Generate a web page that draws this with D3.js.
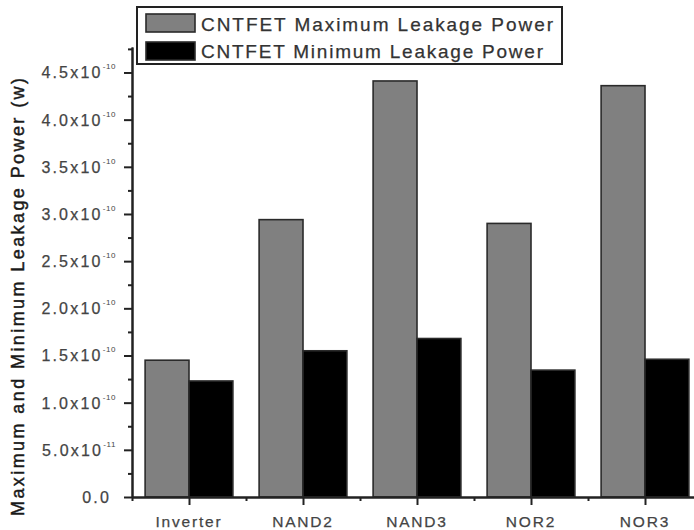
<!DOCTYPE html>
<html>
<head>
<meta charset="utf-8">
<script src="https://cdn.jsdelivr.net/npm/d3@7"></script>
<style>
  body { margin: 0; background: #fff; }
  svg { display: block; font-family: "Liberation Sans", Arial, sans-serif; }
</style>
</head>
<body>
<div id="plot"></div>
<script>
// data (values in W)
const categories = ['Inverter', 'NAND2', 'NAND3', 'NOR2', 'NOR3'];
const maxLeakage = [1.45e-10, 2.94e-10, 4.41e-10, 2.90e-10, 4.36e-10];
const minLeakage = [1.23e-10, 1.55e-10, 1.68e-10, 1.345e-10, 1.46e-10];
const yTicks = [0, 0.5e-10, 1.0e-10, 1.5e-10, 2.0e-10, 2.5e-10, 3.0e-10, 3.5e-10, 4.0e-10, 4.5e-10];
const yTickLabels = ['0.0', '5.0x10', '1.0x10', '1.5x10', '2.0x10', '2.5x10', '3.0x10', '3.5x10', '4.0x10', '4.5x10'];
const yTickExps = ['', '-11', '-10', '-10', '-10', '-10', '-10', '-10', '-10', '-10'];
const seriesNames = ['CNTFET Maximum Leakage Power', 'CNTFET Minimum Leakage Power'];

const width = 694;
const height = 530;
const axisColor = '#222';

const svg = d3.select('#plot')
  .append('svg')
  .attr('width', width)
  .attr('height', height);

svg.append('rect').attr('width', width).attr('height', height).attr('fill', '#fff');

// x runs from 0.5 to 5.5 categories, plot is cut at the right edge like the original
const x = d3.scaleLinear().domain([0.5, 5.5]).range([132, 702]);
const y = d3.scaleLinear().domain([0, 4.77e-10]).range([497, 47]);

const barW = (x(1) - x(0)) * 0.385;

// bars
const bars = svg.append('g');
bars.selectAll('rect.max')
  .data(maxLeakage)
  .enter()
  .append('rect')
  .attr('class', 'max')
  .attr('x', (d, i) => x(i + 1) - barW)
  .attr('y', (d) => y(d))
  .attr('width', barW)
  .attr('height', (d) => y(0) - y(d))
  .attr('fill', '#808080')
  .attr('stroke', '#2a2a2a')
  .attr('stroke-width', 1.6);

bars.selectAll('rect.min')
  .data(minLeakage)
  .enter()
  .append('rect')
  .attr('class', 'min')
  .attr('x', (d, i) => x(i + 1))
  .attr('y', (d) => y(d))
  .attr('width', barW)
  .attr('height', (d) => y(0) - y(d))
  .attr('fill', '#000')
  .attr('stroke', '#2a2a2a')
  .attr('stroke-width', 1.6);

// y axis: major + minor ticks
const yMinor = yTicks.map((t) => t + 0.25e-10);
const yAxisG = svg.append('g').attr('transform', `translate(${x(0.5)},0)`);
yAxisG.call(d3.axisLeft(y).tickValues(yTicks).tickSize(8).tickFormat('').tickSizeOuter(0));
yAxisG.append('g').call(d3.axisLeft(y).tickValues(yMinor).tickSize(4).tickFormat('').tickSizeOuter(0));
yAxisG.selectAll('path, line').attr('stroke', axisColor).attr('stroke-width', 2);

const yLab = svg.append('g');
yTicks.forEach((t, i) => {
  const txt = yLab.append('text')
    .attr('x', yTickExps[i] ? 116 : 111)
    .attr('y', y(t) + 6)
    .attr('text-anchor', 'end')
    .attr('font-size', 16)
    .attr('letter-spacing', 2.2)
    .attr('fill', '#444')
    .attr('stroke', '#444')
    .attr('stroke-width', 0.25)
    .text(yTickLabels[i]);
  if (yTickExps[i]) {
    txt.append('tspan')
      .attr('dy', -9)
      .attr('font-size', 8)
      .attr('letter-spacing', 0.6)
      .attr('stroke-width', 0)
      .text(yTickExps[i]);
  }
});

// x axis
const xMajor = categories.map((c, i) => i + 1);
const xMinor = categories.map((c, i) => i + 0.5);
const xAxisG = svg.append('g').attr('transform', `translate(0,${y(0)})`);
xAxisG.call(d3.axisBottom(x).tickValues(xMajor).tickSize(8).tickFormat('').tickSizeOuter(0));
xAxisG.append('g').call(d3.axisBottom(x).tickValues(xMinor).tickSize(4).tickFormat('').tickSizeOuter(0));
xAxisG.selectAll('path, line').attr('stroke', axisColor).attr('stroke-width', 2);

svg.append('g')
  .selectAll('text')
  .data(categories)
  .enter()
  .append('text')
  .attr('x', (d, i) => x(i + 1))
  .attr('y', 527)
  .attr('text-anchor', 'middle')
  .attr('font-size', 15.5)
  .attr('letter-spacing', 1.8)
  .attr('fill', '#444')
  .attr('stroke', '#444')
  .attr('stroke-width', 0.25)
  .text((d) => d);

// y axis title
svg.append('text')
  .attr('transform', 'translate(24,297) rotate(-90)')
  .attr('text-anchor', 'middle')
  .attr('font-size', 18)
  .attr('fill', '#1a1a1a')
  .attr('stroke', '#1a1a1a')
  .attr('stroke-width', 0.45)
  .attr('textLength', 438)
  .attr('lengthAdjust', 'spacing')
  .text('Maximum and Minimum Leakage Power (w)');

// legend
const legend = svg.append('g');
legend.append('rect')
  .attr('x', 137).attr('y', 7)
  .attr('width', 425).attr('height', 57)
  .attr('fill', '#fff')
  .attr('stroke', axisColor)
  .attr('stroke-width', 2);

const legendFill = ['#808080', '#000'];
const legendLen = [352, 342];
seriesNames.forEach((name, i) => {
  legend.append('rect')
    .attr('x', 146).attr('y', 14 + i * 28)
    .attr('width', 49).attr('height', 18)
    .attr('fill', legendFill[i])
    .attr('stroke', '#2a2a2a')
    .attr('stroke-width', 1.6);
  legend.append('text')
    .attr('x', 201)
    .attr('y', 31 + i * 27)
    .attr('font-size', 19)
    .attr('fill', '#333')
    .attr('stroke', '#333')
    .attr('stroke-width', 0.25)
    .attr('textLength', legendLen[i])
    .attr('lengthAdjust', 'spacing')
    .text(name);
});
</script>
</body>
</html>
